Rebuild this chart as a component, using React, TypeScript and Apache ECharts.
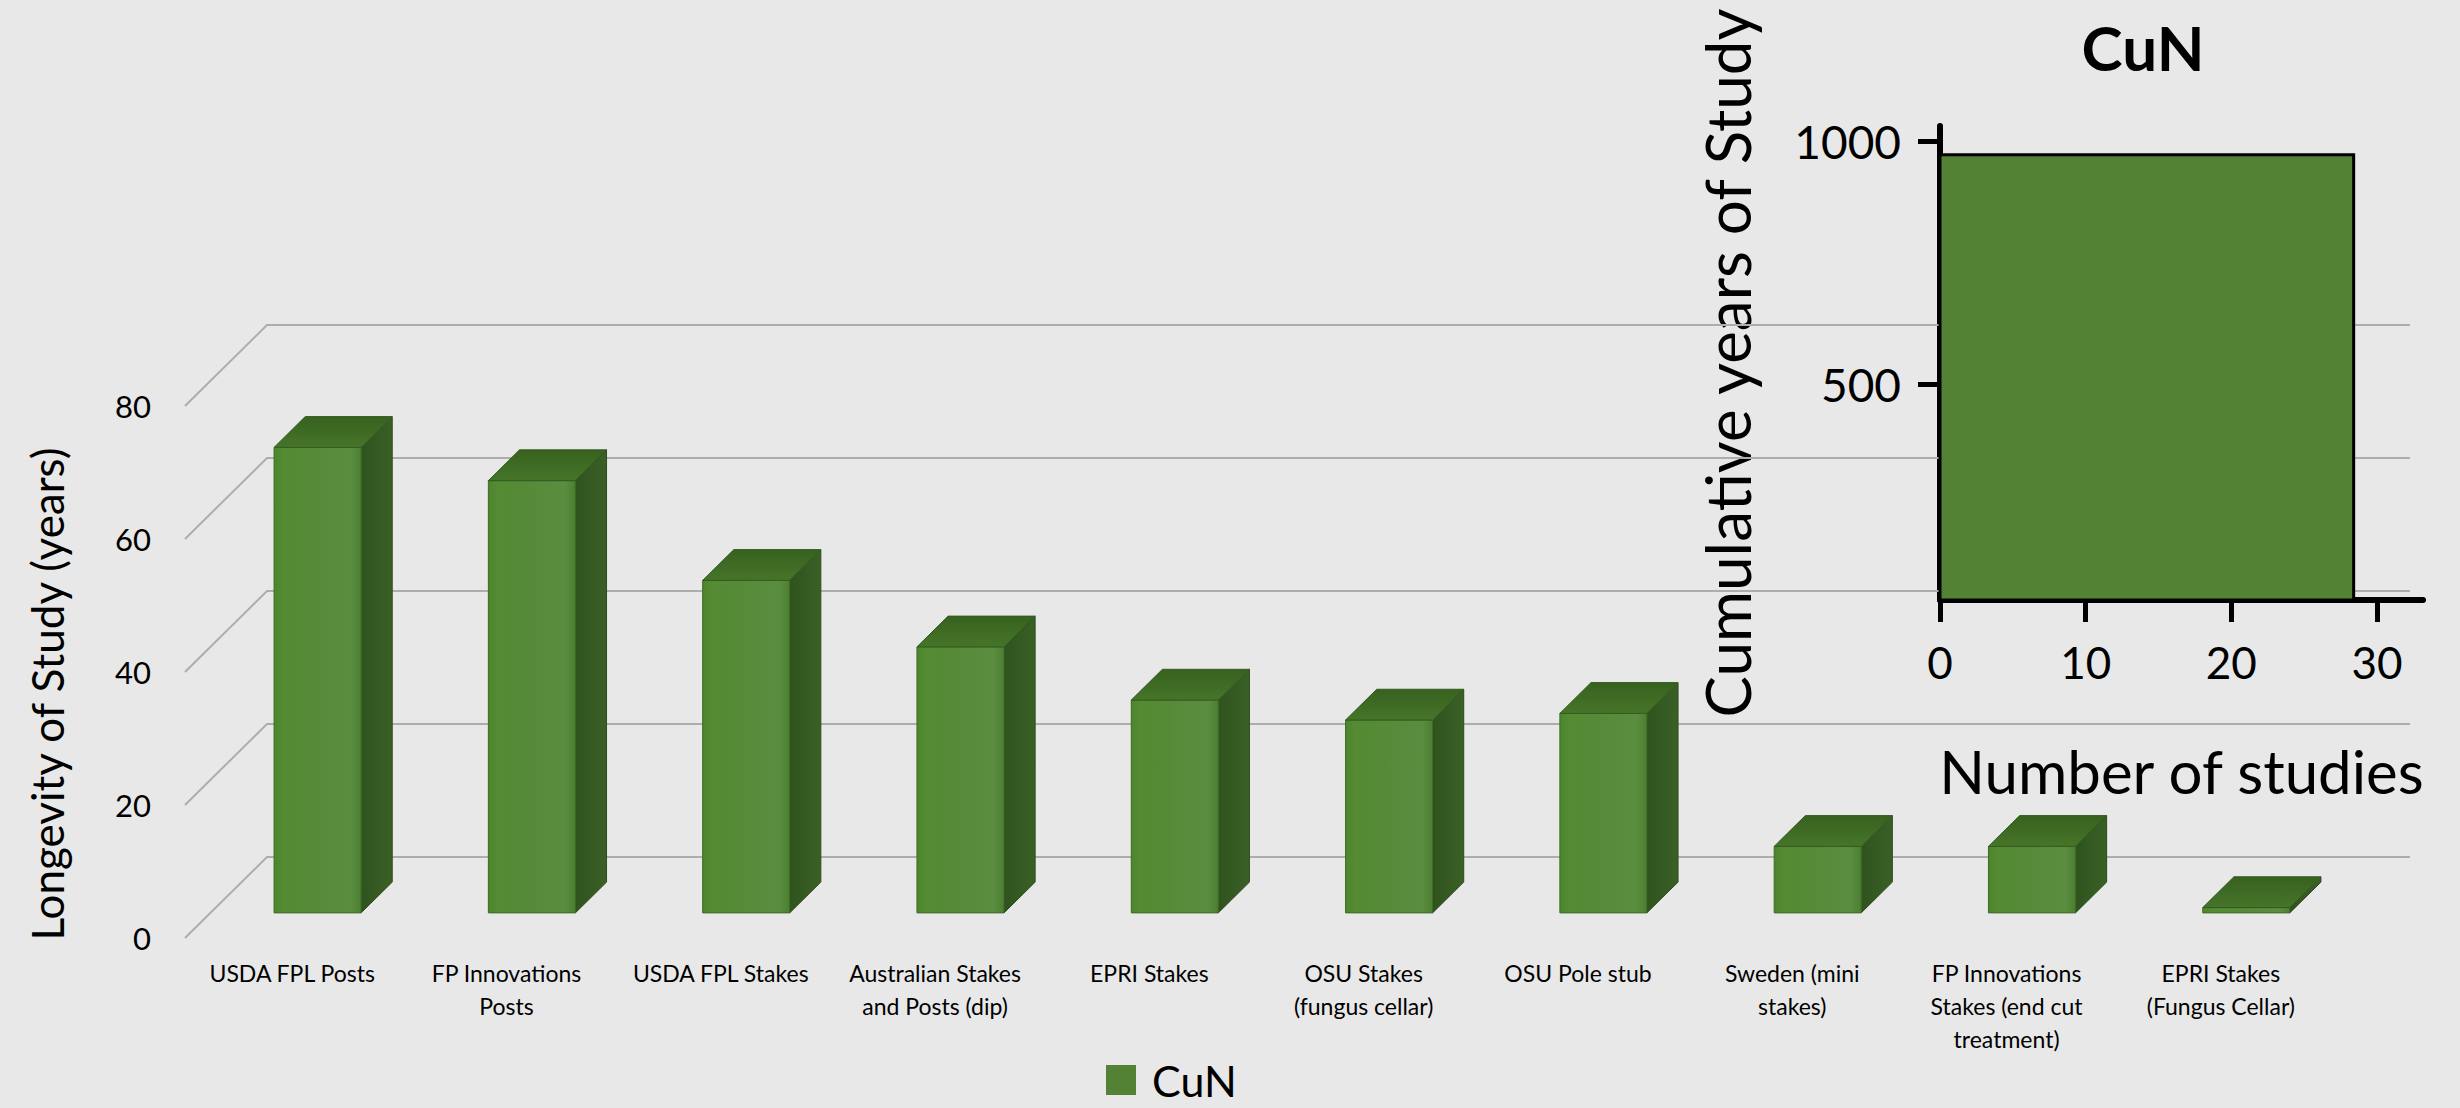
import React, { useEffect, useRef } from 'react';
import * as echarts from 'echarts';

// ---- data ----
const categories = [
  'USDA FPL Posts',
  'FP Innovations\nPosts',
  'USDA FPL Stakes',
  'Australian Stakes\nand Posts (dip)',
  'EPRI Stakes',
  'OSU Stakes\n(fungus cellar)',
  'OSU Pole stub',
  'Sweden (mini\nstakes)',
  'FP Innovations\nStakes (end cut\ntreatment)',
  'EPRI Stakes\n(Fungus Cellar)',
];
const longevityYears = [70, 65, 50, 40, 32, 29, 30, 10, 10, 0.8];
const mainYTicks = [0, 20, 40, 60, 80];

const insetStudies = [28.4];
const insetCumulativeYears = [972];
const insetXTicks = [0, 10, 20, 30];
const insetYTicks = [500, 1000];

// ---- style constants ----
const FONT = 'Lato';
const DEPTH_X = 82;
const DEPTH_Y = 81;
const BAR_FRONT = 0.31;
const BAR_DEPTH = 0.38;
const BAR_WIDTH = 0.406;
const INSET_Y_MIN = 55.6;
const INSET_Y_MAX = 1030.9;
const INSET_X_MAX = 33.16;

function renderWall(params: any, api: any) {
  const y = api.coord([0, api.value(1)])[1];
  const cs = params.coordSys;
  const x0 = cs.x;
  const x1 = cs.x + cs.width;
  return {
    type: 'polyline',
    silent: true,
    shape: {
      points: [
        [x0, y],
        [x0 + DEPTH_X, y - DEPTH_Y],
        [x1 + DEPTH_X, y - DEPTH_Y],
      ],
    },
    style: { stroke: '#adadad', lineWidth: 2, fill: null },
  };
}

function renderBar(params: any, api: any) {
  const i = api.value(0);
  const v = api.value(1);
  const top = api.coord([i, v]);
  const base = api.coord([i, 0]);
  const band = api.size([1, 0])[0];
  const w = band * BAR_WIDTH;
  const ox = DEPTH_X * BAR_FRONT;
  const oy = DEPTH_Y * BAR_FRONT;
  const dx = DEPTH_X * BAR_DEPTH;
  const dy = DEPTH_Y * BAR_DEPTH;
  const xl = top[0] + ox - w / 2;
  const xr = xl + w;
  const yt = top[1] - oy;
  const yb = base[1] - oy;
  const frontFill = new echarts.graphic.LinearGradient(0, 0, 1, 0, [
    { offset: 0, color: '#4b862a' },
    { offset: 0.1, color: '#548b33' },
    { offset: 0.5, color: '#578a39' },
    { offset: 0.88, color: '#5b8d40' },
    { offset: 1, color: '#4d7f31' },
  ]);
  const sideFill = new echarts.graphic.LinearGradient(0, 0, 1, 0, [
    { offset: 0, color: '#2f531d' },
    { offset: 1, color: '#3b6026' },
  ]);
  const topFill = new echarts.graphic.LinearGradient(0, 1, 0, 0, [
    { offset: 0, color: '#467529' },
    { offset: 1, color: '#37621f' },
  ]);
  return {
    type: 'group',
    children: [
      {
        type: 'polygon',
        shape: { points: [[xr, yt], [xr + dx, yt - dy], [xr + dx, yb - dy], [xr, yb]] },
        style: { fill: sideFill, stroke: '#2d4a1d', lineWidth: 1 },
      },
      {
        type: 'rect',
        shape: { x: xl, y: yt, width: w, height: Math.max(yb - yt, 0) },
        style: { fill: frontFill, stroke: '#3f6a28', lineWidth: 1 },
      },
      {
        type: 'polygon',
        shape: { points: [[xl, yt], [xl + dx, yt - dy], [xr + dx, yt - dy], [xr, yt]] },
        style: { fill: topFill, stroke: '#335a20', lineWidth: 1 },
      },
    ],
  };
}

function renderInsetBar(params: any, api: any) {
  const p0 = api.coord([0, INSET_Y_MIN]);
  const p1 = api.coord([api.value(0), api.value(1)]);
  return {
    type: 'rect',
    shape: { x: p0[0], y: p1[1], width: p1[0] - p0[0], height: p0[1] - p1[1] },
    style: { fill: '#548235', stroke: '#000', lineWidth: 3 },
  };
}

export default function App() {
  const ref = useRef<HTMLDivElement>(null);

  useEffect(() => {
    if (!ref.current) return;
    const chart = echarts.init(ref.current, undefined, { renderer: 'svg' });
    const option: any = {
      animation: false,
      backgroundColor: '#e8e8e8',
      textStyle: { fontFamily: FONT },
      graphic: [
        {
          type: 'text',
          x: 2143,
          y: 47,
          style: {
            text: 'CuN',
            fontFamily: FONT,
            fontSize: 62,
            fontWeight: 'bold',
            fill: '#000',
            align: 'center',
            verticalAlign: 'middle',
          },
        },
      ],
      legend: {
        data: ['CuN'],
        left: 1106,
        top: 1054,
        padding: 0,
        icon: 'rect',
        itemWidth: 30,
        itemHeight: 30,
        textStyle: {
          fontFamily: FONT,
          fontSize: 43,
          lineHeight: 52,
          color: '#000',
          padding: [0, 0, 0, 11],
        },
      },
      grid: [
        { left: 185, right: 132, top: 406, bottom: 170 },
        { left: 1940, top: 126, width: 483, height: 474 },
      ],
      xAxis: [
        {
          type: 'category',
          gridIndex: 0,
          data: categories,
          axisLine: { show: false },
          axisTick: { show: false },
          axisLabel: {
            interval: 0,
            fontFamily: FONT,
            fontSize: 23,
            lineHeight: 33,
            color: '#000',
            margin: 18,
          },
          splitLine: { show: false },
        },
        {
          type: 'value',
          gridIndex: 1,
          min: 0,
          max: INSET_X_MAX,
          axisLine: { show: true, onZero: false, lineStyle: { color: '#000', width: 6 } },
          axisTick: { show: true, customValues: insetXTicks, length: 22, lineStyle: { color: '#000', width: 5 } },
          axisLabel: {
            customValues: insetXTicks,
            formatter: (v: number) => String(v),
            fontFamily: FONT,
            fontSize: 44,
            color: '#000',
            margin: 40,
          },
          splitLine: { show: false },
          name: 'Number of studies',
          nameLocation: 'middle',
          nameGap: 135,
          nameTextStyle: { fontFamily: FONT, fontSize: 60, lineHeight: 72, color: '#000' },
        },
      ],
      yAxis: [
        {
          type: 'value',
          gridIndex: 0,
          min: 0,
          max: 80,
          interval: 20,
          axisLine: { show: false },
          axisTick: { show: false },
          axisLabel: { fontFamily: FONT, fontSize: 31, color: '#000', margin: 34 },
          splitLine: { show: false },
          name: 'Longevity of Study (years)',
          nameLocation: 'middle',
          nameGap: 112,
          nameTextStyle: {
            fontFamily: FONT,
            fontSize: 44,
            lineHeight: 52,
            color: '#000',
            padding: [0, 44, 0, 0],
          },
        },
        {
          type: 'value',
          gridIndex: 1,
          min: INSET_Y_MIN,
          max: INSET_Y_MAX,
          axisLine: { show: true, onZero: false, lineStyle: { color: '#000', width: 6 } },
          axisTick: { show: true, customValues: insetYTicks, length: 22, lineStyle: { color: '#000', width: 5 } },
          axisLabel: {
            customValues: insetYTicks,
            formatter: (v: number) => String(v),
            fontFamily: FONT,
            fontSize: 46,
            color: '#000',
            margin: 39,
          },
          splitLine: { show: false },
          name: 'Cumulative years of Study',
          nameLocation: 'middle',
          nameGap: 176,
          nameTextStyle: { fontFamily: FONT, fontSize: 62, lineHeight: 74, color: '#000' },
        },
      ],
      series: [
        {
          type: 'custom',
          name: 'wall',
          xAxisIndex: 0,
          yAxisIndex: 0,
          silent: true,
          z: 1,
          renderItem: renderWall,
          data: mainYTicks.map((v) => [0, v]),
          encode: { x: 0, y: 1 },
        },
        {
          type: 'custom',
          name: 'CuN',
          xAxisIndex: 0,
          yAxisIndex: 0,
          z: 3,
          itemStyle: { color: '#548235' },
          renderItem: renderBar,
          data: longevityYears.map((v, i) => [i, v]),
          encode: { x: 0, y: 1 },
        },
        {
          type: 'custom',
          name: 'CuN inset',
          xAxisIndex: 1,
          yAxisIndex: 1,
          z: 4,
          itemStyle: { color: '#548235' },
          renderItem: renderInsetBar,
          data: insetStudies.map((s, i) => [s, insetCumulativeYears[i]]),
          encode: { x: 0, y: 1 },
        },
      ],
    };
    chart.setOption(option);
    return () => chart.dispose();
  }, []);

  return (
    <div
      ref={ref}
      style={{ position: 'fixed', left: 0, top: 0, width: 2460, height: 1108 }}
    />
  );
}
